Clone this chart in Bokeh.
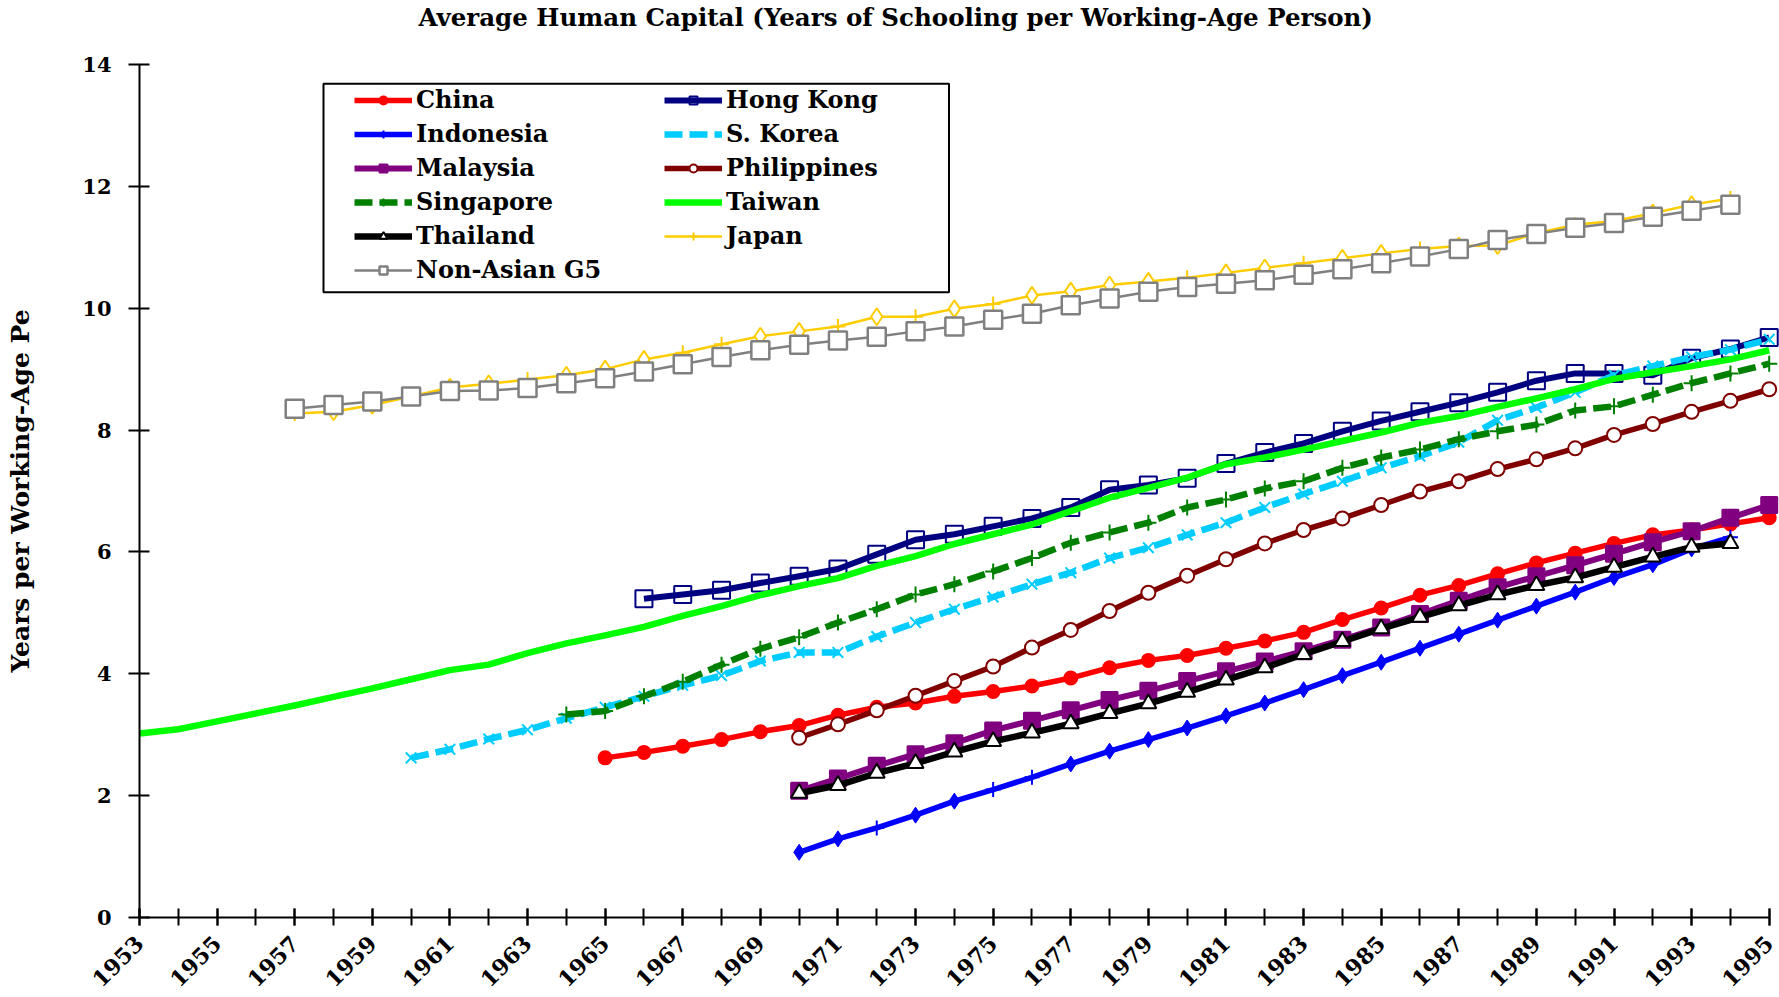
import math
from bokeh.plotting import figure
from bokeh.models import Range1d, FixedTicker, Legend, LegendItem, Title, BoxAnnotation
from bokeh.embed import file_html
from bokeh.resources import INLINE

# ---------------- data (years of schooling per working-age person) ----------------
china_start = 1965
china = [2.62, 2.71, 2.81, 2.92, 3.05, 3.15, 3.32, 3.45, 3.52, 3.63, 3.71, 3.80, 3.93, 4.10, 4.22,
         4.30, 4.42, 4.54, 4.68, 4.89, 5.08, 5.29, 5.45, 5.64, 5.82, 5.98, 6.14, 6.28, 6.36, 6.46, 6.56]

hk_start = 1966
hong_kong = [5.23, 5.30, 5.37, 5.49, 5.60, 5.72, 5.96, 6.20, 6.29, 6.42, 6.55, 6.73, 7.02, 7.10, 7.21,
             7.45, 7.63, 7.78, 7.98, 8.15, 8.30, 8.45, 8.62, 8.81, 8.93, 8.93, 8.90, 9.18, 9.33, 9.52]

indo_start = 1970
indonesia = [1.07, 1.29, 1.47, 1.68, 1.91, 2.10, 2.30, 2.52, 2.73, 2.92, 3.11, 3.31, 3.52, 3.74, 3.97,
             4.19, 4.42, 4.65, 4.88, 5.11, 5.34, 5.58, 5.79, 6.05, 6.24]
indonesia_marks = ["d", "d", "c", "d", "d", "c", "c", "d", "d", "d", "d", "d", "d", "d", "d",
                   "d", "d", "d", "d", "d", "d", "d", "d", "d", "c"]

korea_start = 1960
s_korea = [2.62, 2.76, 2.93, 3.08, 3.27, 3.45, 3.63, 3.81, 3.97, 4.21, 4.35, 4.35, 4.61, 4.84, 5.06,
           5.26, 5.47, 5.66, 5.90, 6.07, 6.28, 6.48, 6.73, 6.95, 7.16, 7.38, 7.57, 7.80, 8.16, 8.37,
           8.62, 8.90, 9.05, 9.20, 9.32, 9.49]

malay_start = 1970
malaysia = [2.08, 2.28, 2.49, 2.68, 2.86, 3.07, 3.23, 3.40, 3.57, 3.72, 3.88, 4.04, 4.20, 4.37, 4.56,
            4.76, 4.98, 5.20, 5.42, 5.60, 5.78, 5.97, 6.16, 6.34, 6.56, 6.77]

phil_start = 1970
philippines = [2.95, 3.17, 3.40, 3.64, 3.88, 4.12, 4.43, 4.72, 5.03, 5.33, 5.61, 5.88, 6.14, 6.36, 6.55,
               6.77, 6.99, 7.16, 7.36, 7.52, 7.70, 7.92, 8.10, 8.30, 8.48, 8.67]

sing_start = 1964
singapore = [3.33, 3.39, 3.63, 3.87, 4.15, 4.41, 4.60, 4.84, 5.06, 5.30, 5.47, 5.68, 5.90, 6.15, 6.32,
             6.48, 6.73, 6.86, 7.04, 7.16, 7.38, 7.55, 7.68, 7.85, 7.98, 8.09, 8.32, 8.39, 8.58, 8.77,
             8.93, 9.09]

taiwan_start = 1953
taiwan = [3.02, 3.09, 3.22, 3.35, 3.48, 3.62, 3.76, 3.91, 4.06, 4.15, 4.34, 4.50, 4.63, 4.77, 4.95,
          5.11, 5.29, 5.44, 5.57, 5.77, 5.93, 6.13, 6.29, 6.45, 6.67, 6.89, 7.05, 7.22, 7.44, 7.55,
          7.68, 7.82, 7.96, 8.12, 8.23, 8.38, 8.52, 8.67, 8.84, 8.95, 9.05, 9.16, 9.31]

thai_start = 1970
thailand = [2.04, 2.17, 2.37, 2.53, 2.72, 2.89, 3.03, 3.18, 3.35, 3.51, 3.70, 3.90, 4.10, 4.32, 4.53,
            4.74, 4.93, 5.12, 5.30, 5.45, 5.58, 5.75, 5.92, 6.08, 6.14]

japan_start = 1957
japan = [8.27, 8.30, 8.41, 8.55, 8.70, 8.76, 8.83, 8.90, 9.00, 9.16, 9.27, 9.41, 9.54, 9.62, 9.70,
         9.86, 9.86, 9.99, 10.07, 10.21, 10.28, 10.38, 10.44, 10.50, 10.58, 10.66, 10.74, 10.82, 10.90,
         10.97, 11.02, 11.03, 11.23, 11.37, 11.43, 11.56, 11.70, 11.80]
japan_marks = ["c", "d", "d", "d", "d", "d", "c", "d", "d", "d", "c", "c", "d", "d", "c",
               "d", "c", "d", "c", "d", "d", "d", "d", "c", "d", "d", "c", "d", "d",
               "c", "d", "d", "d", "c", "c", "d", "d", "c"]

g5_start = 1957
non_asian_g5 = [8.35, 8.41, 8.47, 8.55, 8.64, 8.65, 8.69, 8.77, 8.85, 8.96, 9.08, 9.20, 9.31, 9.40, 9.47,
                9.53, 9.62, 9.70, 9.81, 9.91, 10.05, 10.16, 10.27, 10.35, 10.40, 10.46, 10.55, 10.64,
                10.74, 10.85, 10.97, 11.12, 11.22, 11.32, 11.40, 11.50, 11.60, 11.70]

x_ticks = list(range(1953, 1996, 2))
x_minor = list(range(1953, 1996))
y_ticks = list(range(0, 15, 2))

TITLE = "Average Human Capital (Years of Schooling per Working-Age Person)"
Y_LABEL = "Years per Working-Age Pe"

FONT = "DejaVu Serif"

# ---------------- figure ----------------
p = figure(width=1779, height=997, output_backend="svg", toolbar_location=None,
           x_range=Range1d(1953, 1995.265), y_range=Range1d(0, 14),
           min_border_left=139, min_border_right=0, min_border_top=64, min_border_bottom=80)
p.outline_line_color = None
p.xgrid.visible = False
p.ygrid.visible = False
p.background_fill_color = "white"
p.border_fill_color = "white"

# title: an invisible spacer next to the frame, then the real title on the outside
p.title.text = ""
spacer = Title(text=" ", text_font_size="2px", standoff=28.5, text_color="white")
p.add_layout(spacer, "above")
main_title = Title(text=TITLE, text_font=FONT, text_font_style="bold", text_font_size="24.5px",
                   text_color="black", align="left", offset=279, standoff=0)
p.add_layout(main_title, "above")

xa = p.xaxis[0]
xa.ticker = FixedTicker(ticks=x_ticks, minor_ticks=x_minor)
xa.bounds = (1953, 1995)
xa.axis_line_width = 2
xa.major_tick_line_width = 2
xa.minor_tick_line_width = 2
xa.minor_tick_line_color = "black"
xa.major_tick_in = 9
xa.major_tick_out = 8
xa.minor_tick_in = 9
xa.minor_tick_out = 8
xa.major_label_orientation = math.pi / 4
xa.major_label_standoff = 14
xa.major_label_text_font = FONT
xa.major_label_text_font_style = "bold"
xa.major_label_text_font_size = "22px"
xa.major_label_text_color = "black"

ya = p.yaxis[0]
ya.ticker = FixedTicker(ticks=y_ticks, minor_ticks=[])
ya.bounds = (0, 14)
ya.axis_line_width = 2
ya.major_tick_line_width = 2
ya.major_tick_in = 10
ya.major_tick_out = 11
ya.minor_tick_line_color = None
ya.major_label_standoff = 17
ya.major_label_text_font = FONT
ya.major_label_text_font_style = "bold"
ya.major_label_text_font_size = "21px"
ya.major_label_text_color = "black"
ya.axis_label = Y_LABEL
ya.axis_label_text_font = FONT
ya.axis_label_text_font_style = "bold"
ya.axis_label_text_font_size = "25px"
ya.axis_label_text_color = "black"
ya.axis_label_standoff = 44


def xs_of(start, vals):
    return list(range(start, start + len(vals)))


def draw_line(start, vals, color, width, dash="solid"):
    return p.line(xs_of(start, vals), vals, line_color=color, line_width=width,
                  line_dash=dash, line_join="round")


def draw_marks(start, vals, marker, size, line_color, fill_color, lw=2, kinds=None, kind=None):
    xs = xs_of(start, vals)
    ys = list(vals)
    if kinds is not None:
        sel = [i for i, k in enumerate(kinds) if k == kind]
        xs = [xs[i] for i in sel]
        ys = [ys[i] for i in sel]
    return p.scatter(xs, ys, marker=marker, size=size, line_color=line_color,
                     fill_color=fill_color, line_width=lw)


DASH = "18 7"

l_cn = draw_line(china_start, china, "#FF0000", 5.5)
m_cn = draw_marks(china_start, china, "circle", 13, "#FF0000", "#FF0000")

l_hk = draw_line(hk_start, hong_kong, "#000080", 6)
m_hk = draw_marks(hk_start, hong_kong, "square", 17, "#000080", None, 2)

l_id = draw_line(indo_start, indonesia, "#0000FF", 5.5)
m_id_d = draw_marks(indo_start, indonesia, "diamond", 16, "#0000FF", "#0000FF", 1,
                    kinds=indonesia_marks, kind="d")
m_id_c = draw_marks(indo_start, indonesia, "cross", 15, "#0000FF", None, 2,
                    kinds=indonesia_marks, kind="c")

l_kr = draw_line(korea_start, s_korea, "#00CCFF", 6.5, DASH)
m_kr = draw_marks(korea_start, s_korea, "x", 15, "#00CCFF", None, 2)

l_my = draw_line(malay_start, malaysia, "#800080", 6)
m_my = draw_marks(malay_start, malaysia, "square", 16, "#800080", "#800080")

l_ph = draw_line(phil_start, philippines, "#800000", 5.5)
m_ph = draw_marks(phil_start, philippines, "circle", 14, "#800000", "white", 2)

l_sg = draw_line(sing_start, singapore, "#008000", 6.5, DASH)
m_sg = draw_marks(sing_start, singapore, "cross", 16, "#008000", None, 2)

l_tw = draw_line(taiwan_start, taiwan, "#00FF00", 6.5)

l_th = draw_line(thai_start, thailand, "#000000", 6.5)
m_th = draw_marks(thai_start, thailand, "triangle", 16, "#000000", "white", 2)

l_jp = draw_line(japan_start, japan, "#FFCC00", 2.5)
m_jp_c = draw_marks(japan_start, japan, "cross", 15, "#FFCC00", None, 2,
                    kinds=japan_marks, kind="c")
m_jp_d = draw_marks(japan_start, japan, "diamond", 17, "#FFCC00", "white", 2,
                    kinds=japan_marks, kind="d")

l_g5 = draw_line(g5_start, non_asian_g5, "#808080", 2.5)
m_g5 = draw_marks(g5_start, non_asian_g5, "square", 18, "#808080", "white", 2.5)

# legend frame (screen units from the frame's bottom-left)
legend_box = BoxAnnotation(left=184, right=809.5, bottom=625.3, top=833.7,
                           left_units="screen", right_units="screen",
                           bottom_units="screen", top_units="screen",
                           fill_color="white", fill_alpha=1.0,
                           line_color="black", line_width=2, line_alpha=1.0)
p.add_layout(legend_box)

# two columns, filled column by column
items = [
    LegendItem(label="China", renderers=[l_cn, m_cn]),
    LegendItem(label="Indonesia", renderers=[l_id, m_id_c]),
    LegendItem(label="Malaysia", renderers=[l_my, m_my]),
    LegendItem(label="Singapore", renderers=[l_sg, m_sg]),
    LegendItem(label="Thailand", renderers=[l_th, m_th]),
    LegendItem(label="Non-Asian G5", renderers=[l_g5, m_g5]),
    LegendItem(label="Hong Kong", renderers=[l_hk, m_hk]),
    LegendItem(label="S. Korea", renderers=[l_kr, m_kr]),
    LegendItem(label="Philippines", renderers=[l_ph, m_ph]),
    LegendItem(label="Taiwan", renderers=[l_tw]),
    LegendItem(label="Japan", renderers=[l_jp, m_jp_c]),
]

legend = Legend(items=items, location=(215, 633), ncols=2,
                label_text_font=FONT, label_text_font_style="bold", label_text_font_size="24px",
                label_text_color="black", label_standoff=4,
                glyph_width=58, glyph_height=20, label_height=20, label_width=243,
                spacing=5, padding=6, margin=0,
                border_line_color=None, background_fill_alpha=0.0)
p.add_layout(legend)

open("out.html", "w").write(file_html(p, INLINE, title="Average Human Capital"))
